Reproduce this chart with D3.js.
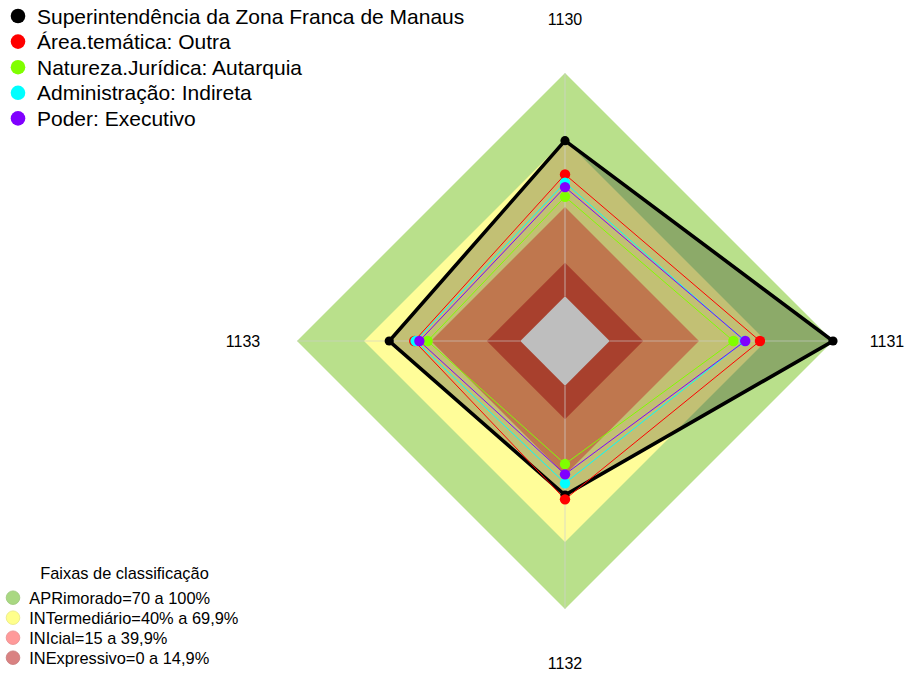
<!DOCTYPE html>
<html>
<head>
<meta charset="utf-8">
<script src="https://cdn.jsdelivr.net/npm/d3@7"></script>
<style>
  html, body { margin: 0; padding: 0; background: #ffffff; }
  svg { display: block; font-family: "Liberation Sans", Arial, sans-serif; }
</style>
</head>
<body>
<svg id="chart" width="905" height="675"></svg>
<script>
// ---- data ----
const axes = ["1130", "1131", "1132", "1133"];

const seriesNames = [
  "Superintendência da Zona Franca de Manaus",
  "Área.temática: Outra",
  "Natureza.Jurídica: Autarquia",
  "Administração: Indireta",
  "Poder: Executivo"
];
const seriesColors = ["#000000", "#ff0000", "#80ff00", "#00ffff", "#8000ff"];

const superintendencia = [69.7, 100, 49.0, 58.7];
const areaTematica     = [54.6, 67.3, 50.9, 47.5];
const naturezaJuridica = [44.6, 55.4, 35.1, 41.5];
const administracao    = [50.9, 60.4, 43.7, 46.9];
const poder            = [48.9, 60.7, 39.7, 45.2];
const seriesValues = [superintendencia, areaTematica, naturezaJuridica, administracao, poder];

// classification bands (upper limit of each band)
const bandNames = [
  "APRimorado=70 a 100%",
  "INTermediário=40% a 69,9%",
  "INIcial=15 a 39,9%",
  "INExpressivo=0 a 14,9%"
];
const bandLimits = [100, 70, 40, 15, 0];
const bandLegendColors = ["#a9d882", "#ffff8c", "#ff9a9a", "#d98282"];

// ---- layout ----
const svg = d3.select("#chart");
const cx = 565, cy = 341, R = 268;
const rScale = d3.scaleLinear().domain([0, 100]).range([R / 6, R]);
const angle = d3.scaleOrdinal().domain(axes).range([-Math.PI / 2, 0, Math.PI / 2, Math.PI]);

function pt(axis, v) {
  const a = angle(axis), r = rScale(v);
  return [cx + r * Math.cos(a), cy + r * Math.sin(a)];
}
const line = d3.line().curve(d3.curveLinearClosed);
function poly(vals) { return line(axes.map((a, i) => pt(a, vals[i]))); }
function ring(v) { return line(axes.map(a => pt(a, v))); }

const g = svg.append("g");

// outer bands (drawn under the main series fill)
g.append("path").attr("d", ring(bandLimits[0])).attr("fill", "#b9e08b");
g.append("path").attr("d", ring(bandLimits[1])).attr("fill", "#fffd99");

// main series fill (semi-transparent black)
g.append("path").attr("d", poly(superintendencia)).attr("fill", "#000000").attr("fill-opacity", 0.24);

// inner bands (as they appear over the fill)
g.append("path").attr("d", ring(bandLimits[2])).attr("fill", "#bf774e");
g.append("path").attr("d", ring(bandLimits[3])).attr("fill", "#a8402d");
g.append("path").attr("d", ring(bandLimits[4])).attr("fill", "#bebebe");

// radial axis lines
axes.forEach(a => {
  const [x0, y0] = pt(a, 0), [x1, y1] = pt(a, 100);
  g.append("line").attr("x1", x0).attr("y1", y0).attr("x2", x1).attr("y2", y1)
    .attr("stroke", "#d0d0d0").attr("stroke-opacity", 0.6).attr("stroke-width", 1.2);
});

// series lines
seriesValues.forEach((vals, si) => {
  g.append("path").attr("d", poly(vals))
    .attr("fill", "none")
    .attr("stroke", seriesColors[si])
    .attr("stroke-width", si === 0 ? 3.6 : 1)
    .attr("stroke-linejoin", "miter");
});
// series points
seriesValues.forEach((vals, si) => {
  axes.forEach((a, i) => {
    const [x, y] = pt(a, vals[i]);
    g.append("circle").attr("cx", x).attr("cy", y)
      .attr("r", si === 0 ? 4.6 : 5.2).attr("fill", seriesColors[si]);
  });
});

// axis labels
axes.forEach(a => {
  const an = angle(a), r = R + 54;
  svg.append("text")
    .attr("x", cx + r * Math.cos(an)).attr("y", cy + r * Math.sin(an))
    .attr("text-anchor", "middle").attr("dominant-baseline", "central")
    .attr("font-size", 16).attr("fill", "#000").text(a);
});

// series legend (top-left)
const leg = svg.append("g");
seriesNames.forEach((n, i) => {
  const y = 16 + i * 25.6;
  leg.append("circle").attr("cx", 18).attr("cy", y).attr("r", 7.3).attr("fill", seriesColors[i]);
  leg.append("text").attr("x", 37).attr("y", y).attr("dominant-baseline", "central")
    .attr("font-size", 21).attr("fill", "#000").text(n);
});

// band legend (bottom-left)
const leg2 = svg.append("g");
leg2.append("text").attr("x", 124.5).attr("y", 573).attr("text-anchor", "middle")
  .attr("dominant-baseline", "central").attr("font-size", 16.4).attr("fill", "#000")
  .text("Faixas de classificação");
bandNames.forEach((n, i) => {
  const y = 597.7 + i * 20;
  leg2.append("circle").attr("cx", 13).attr("cy", y).attr("r", 6.8)
    .attr("fill", bandLegendColors[i])
    .attr("stroke", d3.color(bandLegendColors[i]).darker(0.25)).attr("stroke-width", 0.8);
  leg2.append("text").attr("x", 29.3).attr("y", y).attr("dominant-baseline", "central")
    .attr("font-size", 16.4).attr("fill", "#000").text(n);
});
</script>
</body>
</html>
